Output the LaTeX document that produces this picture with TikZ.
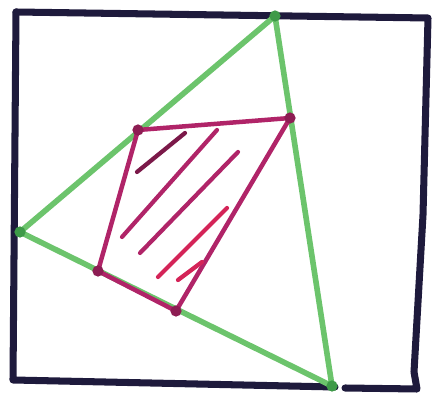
\documentclass[tikz,border=0pt]{standalone}
\usepackage{tikz}

\definecolor{rahmen}{HTML}{1E1A3C}
\definecolor{gruen}{HTML}{6CC46C}
\definecolor{dunkelgruen}{HTML}{3E9A48}
\definecolor{lila}{HTML}{B02468}
\definecolor{rot}{HTML}{D42458}

\tikzset{
  quadrat/.style={line width=5pt, color=rahmen, line join=round, line cap=round},
  dreieck/.style={line width=4pt, color=gruen, line cap=round},
  viereck/.style={line width=3.2pt, color=lila, line join=round, line cap=round},
  schraffur/.style={line width=3pt, color=lila, line cap=round},
  ecke/.style={circle, fill=#1, inner sep=0pt, minimum size=8pt}
}

\begin{document}
\begin{tikzpicture}[x=0.025cm, y=-0.025cm]
    \useasboundingbox (0,0) rectangle (435,398);

    % Quadrat
    \draw[quadrat] (16,12) -- (428,18) -- (423,215) -- (414,372) -- (417,389) -- (345,388);
    \draw[quadrat] (16,12) -- (13,380) -- (335,387);

    % Dreieck
    \coordinate (T) at (275,16);
    \coordinate (L) at (20,232);
    \coordinate (U) at (332,386);
    \draw[dreieck] (T) -- (L) -- (U) -- cycle;
    \foreach \p in {T,L,U}
        \node[ecke=dunkelgruen] at (\p) {};

    % Viereck
    \coordinate (A) at (138,130);
    \coordinate (B) at (290,118);
    \coordinate (C) at (176,311);
    \coordinate (D) at (98,271);
    \draw[viereck] (A) -- (B) -- (C) -- (D) -- cycle;
    \foreach \p in {A,B,C,D}
        \node[ecke=lila!80!black] at (\p) {};

        \draw[schraffur, lila!70!black] (137,172) -- (185,133);
        \draw[schraffur] (122,237) -- (217,130);
        \draw[schraffur] (140,253) -- (238,152);
        \draw[schraffur, rot] (158,277) -- (227,208);
        \draw[schraffur, rot] (178,280) -- (202,262);
\end{tikzpicture}
\end{document}
